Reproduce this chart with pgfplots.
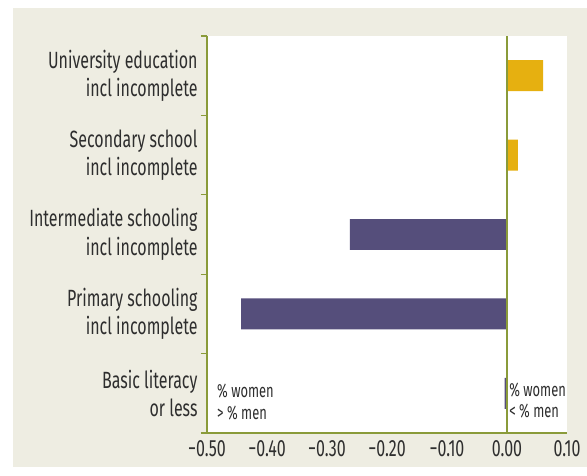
\documentclass[border=0pt]{standalone}
\usepackage{pgfplots}
\pgfplotsset{compat=1.18}
\usepackage{fontspec}
\setmainfont{Fira Sans}[FakeStretch=0.68]
\definecolor{bg}{HTML}{EEEDE2}
\definecolor{axgreen}{HTML}{8A9B3A}
\definecolor{gold}{HTML}{E6B010}
\definecolor{purp}{HTML}{554E7B}
\definecolor{txt}{HTML}{2E2E2E}
\begin{document}
\begin{tikzpicture}
\path (0,0) rectangle (587bp,476bp);
\fill[bg] (13bp,9bp) rectangle (587bp,468bp);
\begin{axis}[
  at={(207bp,43bp)}, anchor=south west,
  scale only axis, width=360bp, height=397bp,
  xmin=-0.5, xmax=0.1, ymin=-0.5, ymax=4.5,
  xbar, bar width=0.39,
  axis x line=bottom, axis y line=left,
  axis line style={-, axgreen, line width=1.2bp},
  axis background/.style={fill=white},
  xtick={-0.5,-0.4,-0.3,-0.2,-0.1,0,0.1},
  xticklabels={−0.50,−0.40,−0.30,−0.20,−0.10,0.00,0.10},
  ytick={0,1,2,3,4},
  yticklabels={{Basic literacy\\or less},{Primary schooling\\incl incomplete},{Intermediate schooling\\incl incomplete},{Secondary school\\incl incomplete},{University education\\incl incomplete}},
  minor ytick={-0.5,0.5,1.5,2.5,3.5,4.5},
  major tick length=0pt, minor tick length=6bp,
  tick align=outside,
  tick style={axgreen, line width=1.2bp},
  ticklabel style={text=txt, font=\fontsize{23.5bp}{28.5bp}\selectfont},
  yticklabel style={align=right, xshift=-6bp},
  xticklabel style={yshift=-4bp},
]
\addplot[fill=gold, draw=none, bar shift=0pt] coordinates {(0.06,4) (0.018,3)};
\addplot[fill=purp, draw=none, bar shift=0pt] coordinates {(-0.004,0) (-0.443,1) (-0.262,2)};
\draw[axgreen, line width=1.2bp] (axis cs:0,-0.5) -- (axis cs:0,4.5);
\node[anchor=west, align=left, inner sep=0pt, text=txt, font=\fontsize{19bp}{21.5bp}\selectfont] at (axis cs:-0.4833,-0.11) {\% women\\ > \% men};
\node[anchor=west, align=left, inner sep=0pt, text=txt, font=\fontsize{19bp}{21.5bp}\selectfont] at (axis cs:0.0035,-0.09) {\% women\\ < \% men};
\end{axis}
\end{tikzpicture}
\end{document}
